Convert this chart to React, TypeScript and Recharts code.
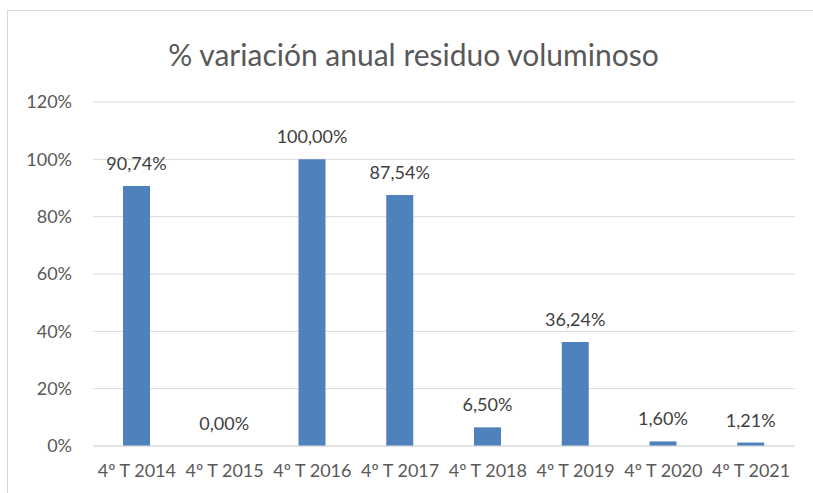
import { BarChart, Bar, XAxis, YAxis, CartesianGrid, LabelList } from "recharts";

const quarters = ["4º T 2014", "4º T 2015", "4º T 2016", "4º T 2017", "4º T 2018", "4º T 2019", "4º T 2020", "4º T 2021"];
const variation = [90.74, 0, 100, 87.54, 6.5, 36.24, 1.6, 1.21];
const yTicks = [0, 20, 40, 60, 80, 100, 120];

const data = quarters.map((q, i) => ({ name: q, value: variation[i] }));

const font = "Lato, 'Liberation Sans', sans-serif";
const textColor = "#595959";

const pct = (v: number) => `${v.toFixed(2).replace(".", ",")}%`;

export default function App() {
  return (
    <div style={{ position: "absolute", left: 0, top: 0, width: 813, height: 493, overflow: "hidden", background: "#fff", fontFamily: font }}>
      <div style={{ position: "absolute", left: 7, top: 10, width: 900, height: 600, border: "1px solid #d9d9d9" }} />
      <div style={{ position: "absolute", left: 0, top: 36, width: 827, textAlign: "center", fontSize: 30, lineHeight: "36px", color: textColor }}>
        % variación anual residuo voluminoso
      </div>
      <div style={{ position: "absolute", left: 0, top: 0 }}>
        <BarChart width={813} height={493} data={data} margin={{ top: 102, right: 18, left: 0, bottom: 17 }}>
          <CartesianGrid vertical={false} stroke="#d9d9d9" />
          <XAxis
            dataKey="name"
            axisLine={{ stroke: "#d9d9d9" }}
            tickLine={false}
            interval={0}
            tickMargin={12}
            tick={{ fill: textColor, fontSize: 18, fontFamily: font }}
          />
          <YAxis
            width={93}
            domain={[0, 120]}
            ticks={yTicks}
            axisLine={false}
            tickLine={false}
            tickMargin={15}
            tickFormatter={(v: number) => `${v}%`}
            tick={{ fill: textColor, fontSize: 18, fontFamily: font }}
          />
          <Bar dataKey="value" fill="#4f81bd" barSize={27} minPointSize={0.01} isAnimationActive={false}>
            <LabelList
              dataKey="value"
              position="top"
              offset={16}
              formatter={(v: number) => pct(v)}
              style={{ fill: "#404040", fontSize: 18, fontFamily: font }}
            />
          </Bar>
        </BarChart>
      </div>
    </div>
  );
}
